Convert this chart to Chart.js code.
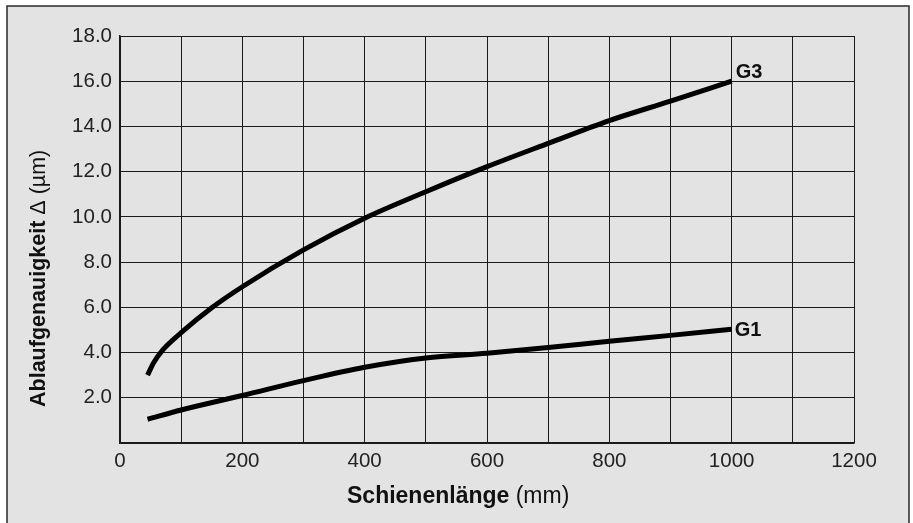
<!DOCTYPE html>
<html lang="de">
<head>
    <meta charset="UTF-8">
    <title>Ablaufgenauigkeit</title>
    <script src="https://cdn.jsdelivr.net/npm/chart.js"></script>
    <style>
        body {
            margin: 0;
            background-color: white;
        }
        .chart-container {
            width: 913px;
            height: 523px;
        }
    </style>
</head>
<body>
    <div class="chart-container">
        <canvas id="accuracyChart"></canvas>
    </div>

    <script>
        // Schienenlänge (mm) / Ablaufgenauigkeit (µm)
        const g3Length = [45, 55, 70, 100, 150, 200, 300, 400, 500, 600, 700, 800, 900, 1000];
        const g3Values = [3.0, 3.55, 4.12, 4.88, 5.98, 6.91, 8.54, 9.94, 11.11, 12.22, 13.25, 14.26, 15.12, 16.0];
        const g1Length = [45, 100, 200, 300, 400, 500, 600, 700, 800, 900, 1000];
        const g1Values = [1.05, 1.46, 2.1, 2.76, 3.35, 3.76, 3.97, 4.22, 4.5, 4.76, 5.03];
        const seriesNames = ['G3', 'G1'];

        const toPoints = (xs, ys) => xs.map((x, i) => ({ x: x, y: ys[i] }));

        // gray panel with a dark frame
        const panelPlugin = {
            id: 'panel',
            beforeDraw(chart) {
                const ctx = chart.ctx;
                ctx.save();
                ctx.fillStyle = '#e3e3e3';
                ctx.fillRect(7, 6, 902, 530);
                ctx.strokeStyle = '#2a2a2a';
                ctx.lineWidth = 1.5;
                ctx.strokeRect(7, 6, 902, 530);
                ctx.restore();
            }
        };

        // axis titles with mixed weights + curve labels
        const textPlugin = {
            id: 'texts',
            afterDraw(chart) {
                const ctx = chart.ctx;
                ctx.save();
                ctx.fillStyle = '#111';
                ctx.textBaseline = 'alphabetic';

                // x title
                ctx.font = 'bold 23px "Liberation Sans", Arial, sans-serif';
                let part1 = 'Schienenlänge';
                ctx.fillText(part1, 347, 503);
                let w = ctx.measureText(part1 + ' ').width;
                ctx.font = '23px "Liberation Sans", Arial, sans-serif';
                ctx.fillText('(mm)', 347 + w, 503);

                // y title
                ctx.translate(45, 407);
                ctx.rotate(-Math.PI / 2);
                ctx.font = 'bold 21.5px "Liberation Sans", Arial, sans-serif';
                part1 = 'Ablaufgenauigkeit';
                ctx.fillText(part1, 0, 0);
                w = ctx.measureText(part1 + ' ').width;
                ctx.font = '21.5px "Liberation Sans", Arial, sans-serif';
                ctx.fillText('Δ (µm)', w, 0);
                ctx.setTransform(1, 0, 0, 1, 0, 0);

                // curve labels at the end of each line
                ctx.font = 'bold 20px "Liberation Sans", Arial, sans-serif';
                ctx.textBaseline = 'middle';
                const xs = chart.scales.x, ys = chart.scales.y;
                const lastG3 = g3Length.length - 1;
                const lastG1 = g1Length.length - 1;
                ctx.fillText(seriesNames[0], xs.getPixelForValue(g3Length[lastG3]) + 4, ys.getPixelForValue(g3Values[lastG3]) - 9);
                ctx.fillText(seriesNames[1], xs.getPixelForValue(g1Length[lastG1]) + 3, ys.getPixelForValue(g1Values[lastG1]) + 1);
                ctx.restore();
            }
        };

        const lineStyle = {
            borderColor: '#000',
            borderWidth: 5,
            pointRadius: 0,
            fill: false,
            cubicInterpolationMode: 'monotone'
        };

        new Chart(document.getElementById('accuracyChart'), {
            type: 'line',
            data: {
                datasets: [
                    { label: seriesNames[0], data: toPoints(g3Length, g3Values), ...lineStyle },
                    { label: seriesNames[1], data: toPoints(g1Length, g1Values), ...lineStyle }
                ]
            },
            options: {
                responsive: true,
                maintainAspectRatio: false,
                animation: false,
                layout: {
                    padding: { left: 8, top: 36, right: 59, bottom: 0 }
                },
                plugins: {
                    legend: { display: false },
                    tooltip: { enabled: false }
                },
                scales: {
                    x: {
                        type: 'linear',
                        min: 0,
                        max: 1200,
                        afterFit(scale) { scale.height = 80; },
                        grid: { color: '#1a1a1a', lineWidth: 1, drawTicks: false },
                        border: { color: '#1a1a1a', width: 1.5 },
                        ticks: {
                            stepSize: 100,
                            autoSkip: false,
                            maxRotation: 0,
                            padding: 6,
                            color: '#222',
                            font: { family: '"Liberation Sans", Arial, sans-serif', size: 20.5 },
                            callback: (v) => (v % 200 === 0 ? v : '')
                        }
                    },
                    y: {
                        min: 0,
                        max: 18,
                        afterFit(scale) { scale.width = 112; },
                        grid: { color: '#1a1a1a', lineWidth: 1, drawTicks: false },
                        border: { color: '#1a1a1a', width: 1.5 },
                        ticks: {
                            stepSize: 2,
                            padding: 8,
                            color: '#222',
                            font: { family: '"Liberation Sans", Arial, sans-serif', size: 20.5 },
                            callback: (v) => (v === 0 ? '' : v.toFixed(1))
                        }
                    }
                }
            },
            plugins: [panelPlugin, textPlugin]
        });
    </script>
</body>
</html>
